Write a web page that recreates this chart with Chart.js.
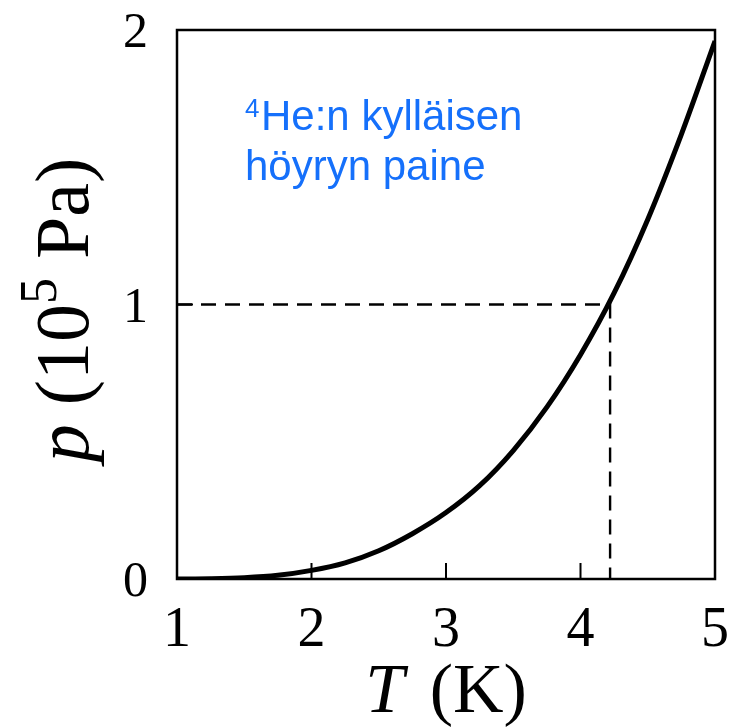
<!DOCTYPE html>
<html>
<head>
<meta charset="utf-8">
<title>He-4 vapor pressure</title>
<script src="https://cdn.jsdelivr.net/npm/chart.js@4/dist/chart.umd.min.js"></script>
<style>
	html,body{margin:0;padding:0;background:#fff;}
	#wrap{width:730px;height:727px;}
</style>
</head>
<body>
<div id="wrap"><canvas id="plot" width="730" height="727"></canvas></div>
<script>
// saturated vapour pressure of helium-4, p in 1e5 Pa
var temps    = [1.0, 1.25, 1.5, 1.75, 2.0, 2.25, 2.5, 2.75, 3.0, 3.25, 3.5, 3.75, 4.0, 4.25, 4.5, 4.75, 5.0];
var pressure = [0.0002, 0.0012, 0.0047, 0.0134, 0.0313, 0.059, 0.103, 0.165, 0.242, 0.340, 0.468, 0.626, 0.817, 1.042, 1.31, 1.62, 1.96];

// guide lines to the normal boiling point
var guideT = [1, 4.22, 4.22];
var guideP = [1, 1, 0];

var xTicks = [1, 2, 3, 4, 5];
var yTicks = [0, 1, 2];

var serif = '"Liberation Serif", "Times New Roman", serif';
var sans = '"Liberation Sans", Arial, sans-serif';

function pts(xs, ys){
	var out = [];
	for (var i = 0; i < xs.length; i++) out.push({x: xs[i], y: ys[i]});
	return out;
}

// box, inward ticks, tick labels, axis titles and the label
var decor = {
	id: 'decor',
	afterDatasetsDraw: function(chart){
		var c = chart.ctx, a = chart.chartArea;
		var xs = chart.scales.x, ys = chart.scales.y;
		c.save();
		c.strokeStyle = '#000';
		c.lineWidth = 2.5;
		c.strokeRect(a.left, a.top, a.right - a.left, a.bottom - a.top);
		c.lineWidth = 2;
		c.beginPath();
		xTicks.forEach(function(v){
			var px = xs.getPixelForValue(v);
			c.moveTo(px, a.bottom); c.lineTo(px, a.bottom - 16);
		});
		yTicks.forEach(function(v){
			var py = ys.getPixelForValue(v);
			c.moveTo(a.left, py); c.lineTo(a.left + 16, py);
		});
		c.stroke();

		c.fillStyle = '#000';
		c.textBaseline = 'alphabetic';

		// tick labels
		c.font = '56px ' + serif;
		c.textAlign = 'center';
		xTicks.forEach(function(v){
			c.fillText(String(v), xs.getPixelForValue(v), 646);
		});
		c.font = '50px ' + serif;
		c.textAlign = 'right';
		yTicks.forEach(function(v){
			c.fillText(String(v), 148, ys.getPixelForValue(v) + 17);
		});
		c.textAlign = 'left';

		// x title: T (K)
		c.font = 'italic 70px ' + serif;
		var w1 = c.measureText('T').width;
		c.font = '70px ' + serif;
		var w2 = c.measureText(' (K)').width;
		var x0 = (a.left + a.right) / 2 - (w1 + w2 + 8) / 2;
		c.font = 'italic 70px ' + serif;
		c.fillText('T', x0, 712);
		c.font = '70px ' + serif;
		c.fillText(' (K)', x0 + w1 + 8, 712);

		// y title: p (10^5 Pa), rotated
		c.save();
		c.translate(88, 310);
		c.rotate(-Math.PI / 2);
		var parts = [
			{t: 'p', f: 'italic 76px ' + serif, dy: 0},
			{t: ' (10', f: '76px ' + serif, dy: 0},
			{t: '5', f: '52px ' + serif, dy: -32},
			{t: ' Pa)', f: '76px ' + serif, dy: 0}
		];
		var total = 0;
		parts.forEach(function(p){ c.font = p.f; p.w = c.measureText(p.t).width; total += p.w; });
		var cx = -total / 2;
		parts.forEach(function(p){ c.font = p.f; c.fillText(p.t, cx, p.dy); cx += p.w; });
		c.restore();

		// label inside the plot
		c.fillStyle = '#1570fb';
		c.font = '26px ' + sans;
		c.fillText('4', 245, 117);
		c.font = '42px ' + sans;
		c.fillText('He:n kylläisen', 261, 130);
		c.fillText('höyryn paine', 245, 180);
		c.restore();
	}
};

var ctx = document.getElementById('plot');
var chart = new Chart(ctx, {
	type: 'line',
	data: {
		datasets: [
			{
				data: pts(temps, pressure),
				borderColor: '#000',
				borderWidth: 5,
				pointRadius: 0,
				cubicInterpolationMode: 'monotone',
				fill: false
			},
			{
				data: pts(guideT, guideP),
				borderColor: '#000',
				borderWidth: 2.4,
				borderDash: [15, 9],
				pointRadius: 0,
				tension: 0,
				fill: false
			}
		]
	},
	options: {
		responsive: false,
		animation: false,
		layout: {padding: {top: 30, right: 15, left: 0, bottom: 0}},
		plugins: {legend: {display: false}, tooltip: {enabled: false}},
		scales: {
			x: {
				type: 'linear', min: 1, max: 5,
				afterBuildTicks: function(s){ s.ticks = xTicks.map(function(v){ return {value: v}; }); },
				afterFit: function(s){ s.height = 148; },
				grid: {display: false, drawTicks: false},
				border: {display: false},
				ticks: {display: false}
			},
			y: {
				type: 'linear', min: 0, max: 2,
				afterBuildTicks: function(s){ s.ticks = yTicks.map(function(v){ return {value: v}; }); },
				afterFit: function(s){ s.width = 177; },
				grid: {display: false, drawTicks: false},
				border: {display: false},
				ticks: {display: false}
			}
		}
	},
	plugins: [decor]
});
</script>
</body>
</html>
